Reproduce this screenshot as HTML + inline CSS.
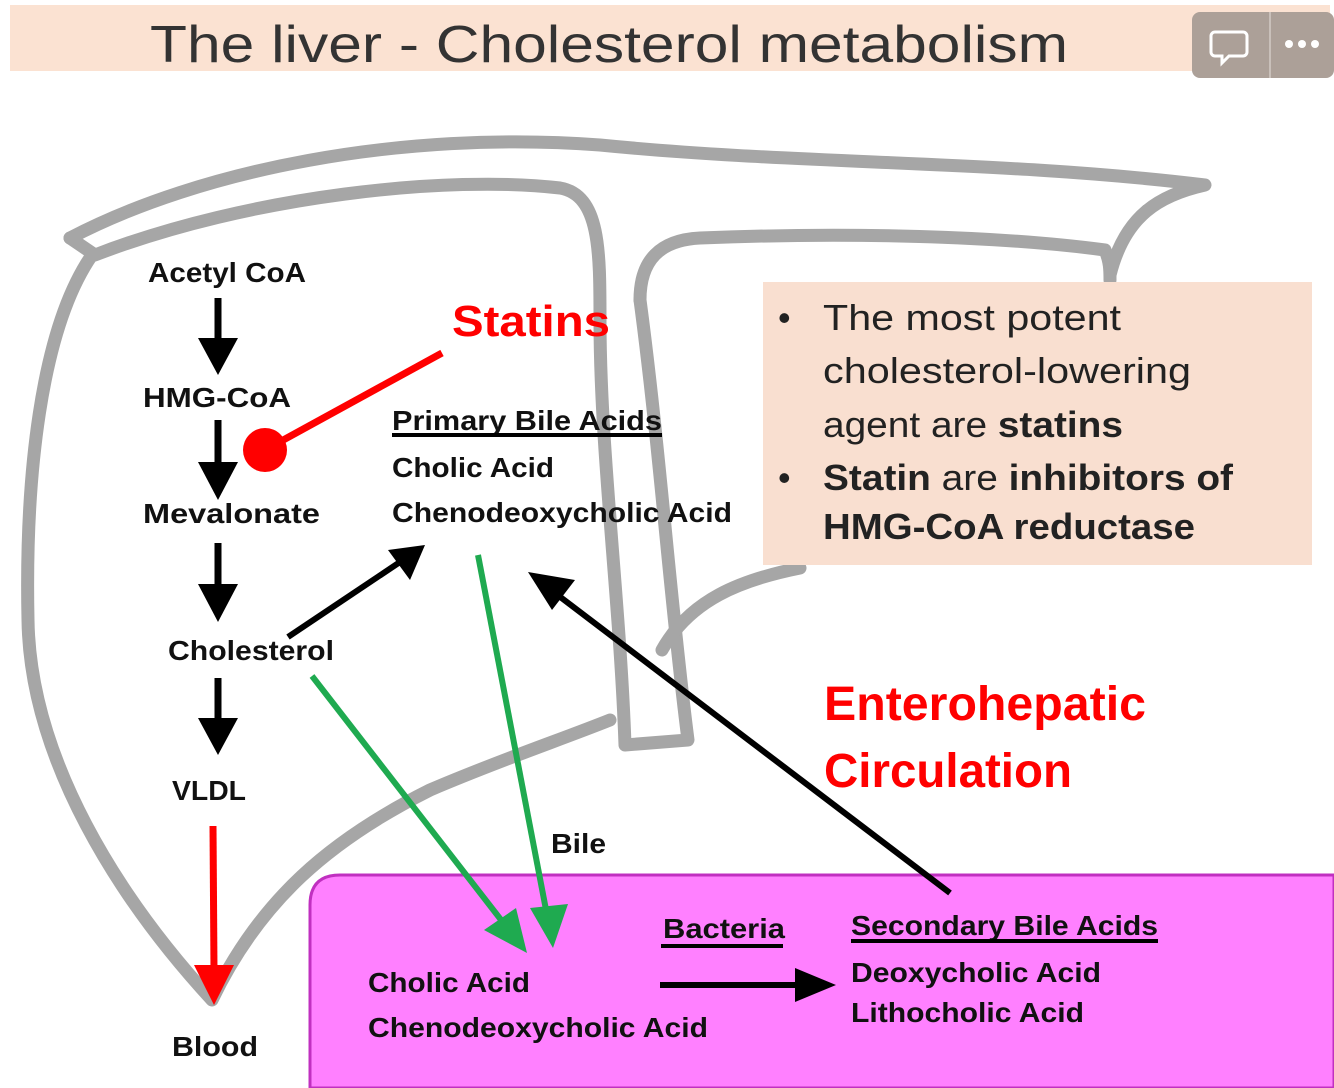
<!DOCTYPE html>
<html><head><meta charset="utf-8"><style>
html,body{margin:0;padding:0;background:#fff;}
svg{display:block;}
</style></head><body>
<svg width="1334" height="1088" viewBox="0 0 1334 1088" xmlns="http://www.w3.org/2000/svg">
<defs>
<marker id="bk" markerWidth="10" markerHeight="10" refX="6" refY="5" orient="auto" markerUnits="userSpaceOnUse" viewBox="0 0 10 10"><path d="M0,0 L10,5 L0,10 z" fill="#000"/></marker>
</defs>
<rect x="10" y="5" width="1320" height="66" fill="#fbe2d2"/>
<text x="150" y="62" font-family="Liberation Sans, sans-serif" font-size="52" fill="#333" textLength="918" lengthAdjust="spacingAndGlyphs">The liver -  Cholesterol metabolism</text>
<rect x="1192" y="12" width="142" height="66" rx="8" fill="#aca098"/>
<line x1="1270" y1="12" x2="1270" y2="78" stroke="#c9c0ba" stroke-width="2"/>
<path d="M1215,32 h28 a4,4 0 0 1 4,4 v16 a4,4 0 0 1 -4,4 h-14 l-7,7 v-7 h-7 a4,4 0 0 1 -4,-4 v-16 a4,4 0 0 1 4,-4z" fill="none" stroke="#fff" stroke-width="3"/>
<circle cx="1289" cy="44" r="4" fill="#fff"/><circle cx="1302" cy="44" r="4" fill="#fff"/><circle cx="1315" cy="44" r="4" fill="#fff"/>

<g fill="none" stroke="#a6a6a6" stroke-width="13" stroke-linejoin="round" stroke-linecap="round">
<path d="M70,238 C200,170 400,130 600,145 C800,165 1000,160 1205,185 C1160,195 1125,215 1110,275"/>
<path d="M70,238 L95,255 C250,195 450,175 560,188 C600,195 600,250 600,320 C600,450 620,600 625,745 L688,740 C670,600 660,450 640,300"/>
<path d="M92,255 C40,330 25,480 28,620 C30,760 120,900 212,1000 C260,900 330,840 430,790 C500,760 560,740 610,720"/>
<path d="M625,745 M640,300 C640,260 660,240 700,238 C850,232 1000,236 1105,250 C1110,262 1110,270 1110,280"/>
<path d="M662,650 C690,600 740,580 800,568"/>
</g>

<rect x="763" y="282" width="549" height="283" fill="#f9dfd0"/>
<g font-family="Liberation Sans, sans-serif" font-size="36" fill="#222">
<text x="778" y="330">•</text><text x="778" y="490">•</text>
<text x="823" y="330" textLength="298" lengthAdjust="spacingAndGlyphs">The most potent</text>
<text x="823" y="383" textLength="368" lengthAdjust="spacingAndGlyphs">cholesterol-lowering</text>
<text x="823" y="437" textLength="300" lengthAdjust="spacingAndGlyphs">agent are <tspan font-weight="bold">statins</tspan></text>
<text x="823" y="490" textLength="410" lengthAdjust="spacingAndGlyphs"><tspan font-weight="bold">Statin</tspan> are <tspan font-weight="bold">inhibitors of</tspan></text>
<text x="823" y="539" font-weight="bold" textLength="372" lengthAdjust="spacingAndGlyphs">HMG-CoA reductase</text>
</g>

<path d="M310,1088 L310,905 Q310,875 340,875 L1334,875 L1334,1088 Z" fill="#ff80ff" stroke="#c030c0" stroke-width="3"/>

<g stroke="#000" stroke-width="7">
<line x1="218" y1="298" x2="218" y2="345"/><line x1="218" y1="420" x2="218" y2="470"/>
<line x1="218" y1="543" x2="218" y2="592"/><line x1="218" y1="678" x2="218" y2="725"/>
</g>
<g fill="#000">
<path d="M198,338 L238,338 L218,375z"/><path d="M198,462 L238,462 L218,500z"/>
<path d="M198,584 L238,584 L218,622z"/><path d="M198,718 L238,718 L218,755z"/>
</g>
<line x1="213" y1="826" x2="214" y2="970" stroke="#f00" stroke-width="7"/>
<path d="M194,965 L234,965 L214,1005z" fill="#f00"/>
<line x1="442" y1="353" x2="265" y2="450" stroke="#f00" stroke-width="7"/>
<circle cx="265" cy="450" r="22" fill="#f00"/>

<line x1="288" y1="637" x2="400" y2="562" stroke="#000" stroke-width="6"/>
<path d="M425,545 L388,550 L410,580z" fill="#000"/>
<line x1="312" y1="676" x2="505" y2="925" stroke="#1faa50" stroke-width="6"/>
<path d="M527,953 L484,930 L516,908z" fill="#1faa50"/>
<line x1="478" y1="555" x2="547" y2="915" stroke="#1faa50" stroke-width="6"/>
<path d="M553,948 L530,908 L568,904z" fill="#1faa50"/>
<line x1="950" y1="893" x2="555" y2="593" stroke="#000" stroke-width="6"/>
<path d="M528,572 L575,580 L552,610z" fill="#000"/>
<line x1="660" y1="985" x2="800" y2="985" stroke="#000" stroke-width="6"/>
<path d="M836,985 L795,968 L795,1002z" fill="#000"/>

<g font-family="Liberation Sans, sans-serif" font-weight="bold" font-size="28" fill="#111">
<text x="148" y="282" textLength="158" lengthAdjust="spacingAndGlyphs">Acetyl CoA</text>
<text x="143" y="407" textLength="148" lengthAdjust="spacingAndGlyphs">HMG-CoA</text>
<text x="143" y="523" textLength="177" lengthAdjust="spacingAndGlyphs">Mevalonate</text>
<text x="168" y="660" textLength="166" lengthAdjust="spacingAndGlyphs">Cholesterol</text>
<text x="172" y="800" textLength="74" lengthAdjust="spacingAndGlyphs">VLDL</text>
<text x="172" y="1056" textLength="86" lengthAdjust="spacingAndGlyphs">Blood</text>
<text x="392" y="430" textLength="270" lengthAdjust="spacingAndGlyphs">Primary Bile Acids</text>
<text x="392" y="477" textLength="162" lengthAdjust="spacingAndGlyphs">Cholic Acid</text>
<text x="392" y="522" textLength="340" lengthAdjust="spacingAndGlyphs">Chenodeoxycholic Acid</text>
<text x="551" y="853" textLength="55" lengthAdjust="spacingAndGlyphs">Bile</text>
<text x="663" y="938" textLength="122" lengthAdjust="spacingAndGlyphs">Bacteria</text>
<text x="851" y="935" textLength="307" lengthAdjust="spacingAndGlyphs">Secondary Bile Acids</text>
<text x="851" y="982" textLength="250" lengthAdjust="spacingAndGlyphs">Deoxycholic Acid</text>
<text x="851" y="1022" textLength="233" lengthAdjust="spacingAndGlyphs">Lithocholic Acid</text>
<text x="368" y="992" textLength="162" lengthAdjust="spacingAndGlyphs">Cholic Acid</text>
<text x="368" y="1037" textLength="340" lengthAdjust="spacingAndGlyphs">Chenodeoxycholic Acid</text>
</g>
<g stroke="#000" stroke-width="4">
<line x1="392" y1="435" x2="662" y2="435"/>
<line x1="661" y1="946" x2="783" y2="946"/>
<line x1="851" y1="941" x2="1158" y2="941"/>
</g>
<g font-family="Liberation Sans, sans-serif" font-weight="bold" fill="#f00">
<text x="452" y="336" font-size="44" textLength="158" lengthAdjust="spacingAndGlyphs">Statins</text>
<text x="824" y="720" font-size="48" textLength="322" lengthAdjust="spacingAndGlyphs">Enterohepatic</text>
<text x="824" y="787" font-size="48" textLength="248" lengthAdjust="spacingAndGlyphs">Circulation</text>
</g>
</svg>
</body></html>
